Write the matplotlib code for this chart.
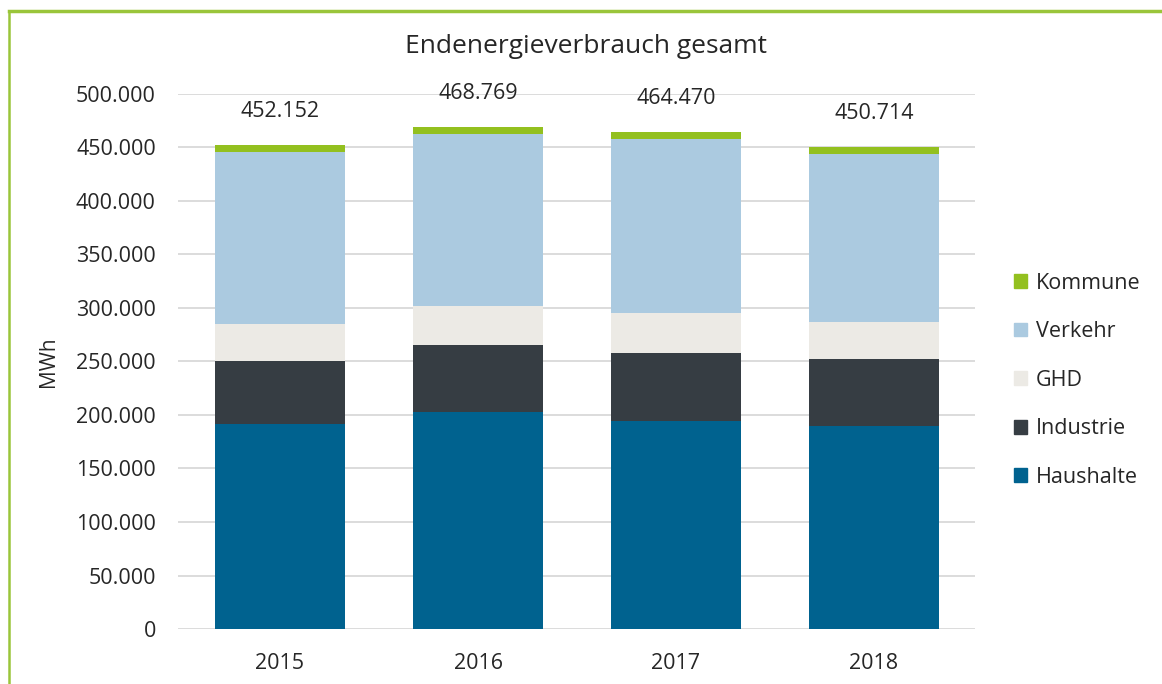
import matplotlib.pyplot as plt
from matplotlib.lines import Line2D
from matplotlib.ticker import FuncFormatter

# Data (MWh)
jahre = ['2015', '2016', '2017', '2018']
haushalte = [191300, 202800, 194400, 189700]
industrie = [58900, 62300, 63300, 62300]
ghd = [34800, 36800, 37300, 34600]
verkehr = [160500, 160400, 162600, 157600]
kommune = [6652, 6469, 6870, 6514]
gesamt = [452152, 468769, 464470, 450714]

sektoren = ['Haushalte', 'Industrie', 'GHD', 'Verkehr', 'Kommune']
werte = [haushalte, industrie, ghd, verkehr, kommune]
farben = ['#00628f', '#363d43', '#eceae5', '#abcae0', '#93c01f']

plt.rcParams['font.family'] = ['Open Sans', 'DejaVu Sans']

fig = plt.figure(figsize=(11.62, 6.84), dpi=100)
ax = fig.add_axes([0.1532, 0.0804, 0.6859, 0.7822])

x = range(len(jahre))
unten = [0] * len(jahre)
for name, w, f in zip(sektoren, werte, farben):
    ax.bar(x, w, bottom=unten, width=0.657, color=f, label=name, zorder=2)
    unten = [u + v for u, v in zip(unten, w)]

# Summen ueber den Balken
for i, s in enumerate(gesamt):
    ax.text(i, unten[i] + 31500, f'{s:,}'.replace(',', '.'), ha='center', va='center',
            fontsize=15.5, color='#262626', clip_on=False)

ax.set_xlim(-0.515, 3.51)
ax.set_ylim(0, 500000)
ax.set_yticks(range(0, 500001, 50000))
ax.yaxis.set_major_formatter(FuncFormatter(lambda v, p: f'{int(v):,}'.replace(',', '.')))
ax.set_xticks(list(x))
ax.set_xticklabels(jahre)
ax.tick_params(axis='both', length=0, labelsize=15.5, labelcolor='#262626')
ax.tick_params(axis='y', pad=16)
ax.tick_params(axis='x', pad=17)
ax.grid(axis='y', color='#d9d9d9', linewidth=1.3, zorder=0)
ax.set_axisbelow(True)
for sp in ax.spines.values():
    sp.set_visible(False)

ax.set_ylabel('MWh', fontsize=15, color='#262626', labelpad=12)
fig.text(0.504, 0.932, 'Endenergieverbrauch gesamt', ha='center', va='center',
         fontsize=19, color='#262626')

# Legende
handles = [plt.Rectangle((0, 0), 1, 1, color=f) for f in farben][::-1]
fig.legend(handles, sektoren[::-1], loc='center left', bbox_to_anchor=(0.856, 0.444),
           frameon=False, fontsize=15.5, handlelength=0.6, handleheight=0.6,
           handletextpad=0.4, labelspacing=1.28, labelcolor='#262626')

# gruener Rahmen oben und links
fig.add_artist(Line2D([0.008, 1.0], [0.984, 0.984], color='#9ac53a', linewidth=2.5))
fig.add_artist(Line2D([0.008, 0.008], [0.0, 0.984], color='#9ac53a', linewidth=1.8))

fig.savefig('out.png', dpi=100)
